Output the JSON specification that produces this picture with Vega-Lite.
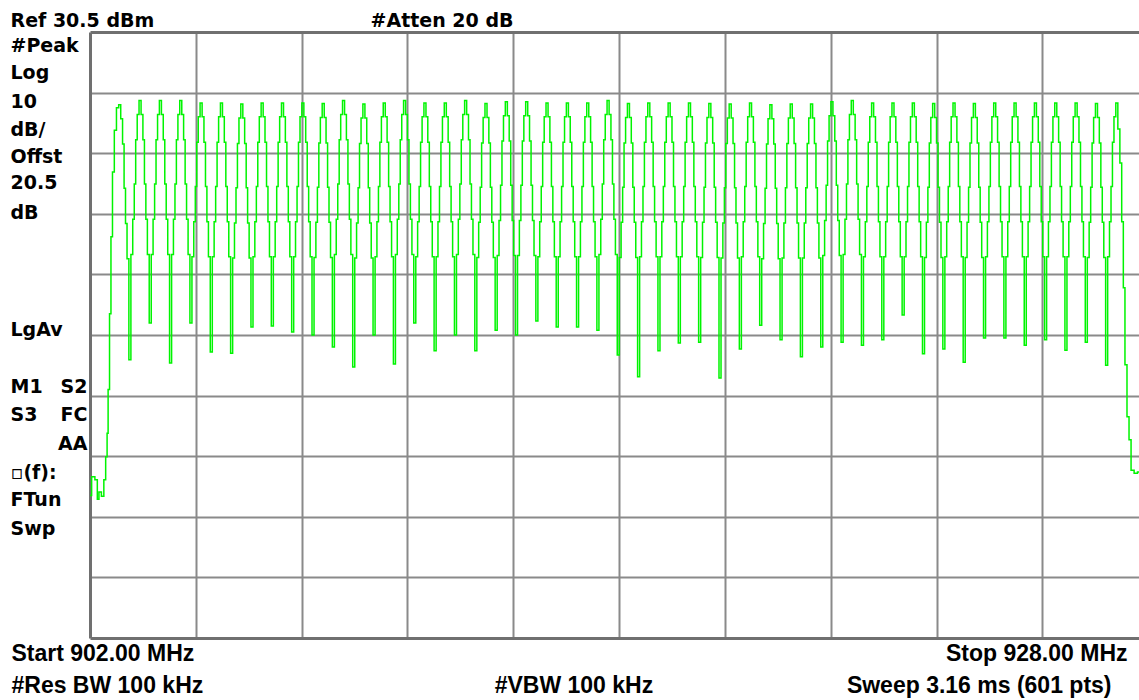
{
"$schema":"https://vega.github.io/schema/vega-lite/v6.json",
"width":1049,"height":606,
"autosize":{"type":"none"},
"padding":{"left":90,"top":32,"right":0,"bottom":62},
"background":"#ffffff",
"config":{"view":{"stroke":null},"axis":{"labelFont":"DejaVu Sans","labelFontWeight":"bold","labelColor":"#000000","labelFontSize":19,"labelFlush":false,"labelOverlap":false,"labelBound":false,"labelLimit":0,"title":null}},
"data":{"values":[
{"f":902.00,"p":-46.0},{"f":902.08,"p":-42.9},{"f":902.16,"p":-43.4},{"f":902.20,"p":-46.6},{"f":902.24,"p":-45.4},{"f":902.32,"p":-46.1},{"f":902.36,"p":-43.4},{"f":902.41,"p":-39.6},{"f":902.43,"p":-35.7},{"f":902.46,"p":-28.5},{"f":902.50,"p":-16.0},{"f":902.53,"p":-3.3},{"f":902.575,"p":7.4},{"f":902.62,"p":14.3},{"f":902.68,"p":18.0},{"f":902.73,"p":18.5},{"f":902.78,"p":16.2},{"f":902.82,"p":12.0},{"f":902.855,"p":4.7},{"f":902.89,"p":-1.1},{"f":902.93,"p":-6.9},{"f":902.98,"p":-23.6},
{"f":903.03,"p":-6.2},{"f":903.07,"p":-0.4},{"f":903.105,"p":5.4},{"f":903.14,"p":12.7},{"f":903.18,"p":16.9},{"f":903.23,"p":19.2},{"f":903.28,"p":16.9},{"f":903.32,"p":12.7},{"f":903.355,"p":5.4},{"f":903.39,"p":-0.4},{"f":903.43,"p":-6.2},{"f":903.48,"p":-17.5},
{"f":903.53,"p":-6.2},{"f":903.57,"p":-0.4},{"f":903.605,"p":5.4},{"f":903.64,"p":12.7},{"f":903.68,"p":16.9},{"f":903.73,"p":19.2},{"f":903.78,"p":16.9},{"f":903.82,"p":12.7},{"f":903.855,"p":5.4},{"f":903.89,"p":-0.4},{"f":903.93,"p":-6.2},{"f":903.98,"p":-24.1},
{"f":904.03,"p":-6.2},{"f":904.07,"p":-0.4},{"f":904.105,"p":5.4},{"f":904.14,"p":12.7},{"f":904.18,"p":16.9},{"f":904.23,"p":19.2},{"f":904.28,"p":16.9},{"f":904.32,"p":12.7},{"f":904.355,"p":5.4},{"f":904.39,"p":-0.4},{"f":904.43,"p":-6.2},{"f":904.48,"p":-17.5},
{"f":904.53,"p":-6.6},{"f":904.57,"p":-0.8},{"f":904.605,"p":5.0},{"f":904.64,"p":12.3},{"f":904.68,"p":16.5},{"f":904.73,"p":18.8},{"f":904.78,"p":16.5},{"f":904.82,"p":12.3},{"f":904.855,"p":5.0},{"f":904.89,"p":-0.8},{"f":904.93,"p":-6.6},{"f":904.98,"p":-22.3},
{"f":905.03,"p":-6.6},{"f":905.07,"p":-0.8},{"f":905.105,"p":5.0},{"f":905.14,"p":12.3},{"f":905.18,"p":16.5},{"f":905.23,"p":18.8},{"f":905.28,"p":16.5},{"f":905.32,"p":12.3},{"f":905.355,"p":5.0},{"f":905.39,"p":-0.8},{"f":905.43,"p":-6.6},{"f":905.48,"p":-22.5},
{"f":905.53,"p":-6.8},{"f":905.57,"p":-1.0},{"f":905.605,"p":4.8},{"f":905.64,"p":12.1},{"f":905.68,"p":16.3},{"f":905.73,"p":18.6},{"f":905.78,"p":16.3},{"f":905.82,"p":12.1},{"f":905.855,"p":4.8},{"f":905.89,"p":-1.0},{"f":905.93,"p":-6.8},{"f":905.98,"p":-18.2},
{"f":906.03,"p":-6.6},{"f":906.07,"p":-0.8},{"f":906.105,"p":5.0},{"f":906.14,"p":12.3},{"f":906.18,"p":16.5},{"f":906.23,"p":18.8},{"f":906.28,"p":16.5},{"f":906.32,"p":12.3},{"f":906.355,"p":5.0},{"f":906.39,"p":-0.8},{"f":906.43,"p":-6.6},{"f":906.48,"p":-18.0},
{"f":906.53,"p":-6.6},{"f":906.57,"p":-0.8},{"f":906.605,"p":5.0},{"f":906.64,"p":12.3},{"f":906.68,"p":16.5},{"f":906.73,"p":18.8},{"f":906.78,"p":16.5},{"f":906.82,"p":12.3},{"f":906.855,"p":5.0},{"f":906.89,"p":-0.8},{"f":906.93,"p":-6.6},{"f":906.98,"p":-19.0},
{"f":907.03,"p":-6.6},{"f":907.07,"p":-0.8},{"f":907.105,"p":5.0},{"f":907.14,"p":12.3},{"f":907.18,"p":16.5},{"f":907.23,"p":18.8},{"f":907.28,"p":16.5},{"f":907.32,"p":12.3},{"f":907.355,"p":5.0},{"f":907.39,"p":-0.8},{"f":907.43,"p":-6.6},{"f":907.48,"p":-19.5},
{"f":907.53,"p":-6.7},{"f":907.57,"p":-0.9},{"f":907.605,"p":4.9},{"f":907.64,"p":12.2},{"f":907.68,"p":16.4},{"f":907.73,"p":18.7},{"f":907.78,"p":16.4},{"f":907.82,"p":12.2},{"f":907.855,"p":4.9},{"f":907.89,"p":-0.9},{"f":907.93,"p":-6.7},{"f":907.98,"p":-21.5},
{"f":908.03,"p":-6.2},{"f":908.07,"p":-0.4},{"f":908.105,"p":5.4},{"f":908.14,"p":12.7},{"f":908.18,"p":16.9},{"f":908.23,"p":19.2},{"f":908.28,"p":16.9},{"f":908.32,"p":12.7},{"f":908.355,"p":5.4},{"f":908.39,"p":-0.4},{"f":908.43,"p":-6.2},{"f":908.48,"p":-24.8},
{"f":908.53,"p":-6.8},{"f":908.57,"p":-1.0},{"f":908.605,"p":4.8},{"f":908.64,"p":12.1},{"f":908.68,"p":16.3},{"f":908.73,"p":18.6},{"f":908.78,"p":16.3},{"f":908.82,"p":12.1},{"f":908.855,"p":4.8},{"f":908.89,"p":-1.0},{"f":908.93,"p":-6.8},{"f":908.98,"p":-19.5},
{"f":909.03,"p":-6.6},{"f":909.07,"p":-0.8},{"f":909.105,"p":5.0},{"f":909.14,"p":12.3},{"f":909.18,"p":16.5},{"f":909.23,"p":18.8},{"f":909.28,"p":16.5},{"f":909.32,"p":12.3},{"f":909.355,"p":5.0},{"f":909.39,"p":-0.8},{"f":909.43,"p":-6.6},{"f":909.48,"p":-24.3},
{"f":909.53,"p":-6.2},{"f":909.57,"p":-0.4},{"f":909.605,"p":5.4},{"f":909.64,"p":12.7},{"f":909.68,"p":16.9},{"f":909.73,"p":19.2},{"f":909.78,"p":16.9},{"f":909.82,"p":12.7},{"f":909.855,"p":5.4},{"f":909.89,"p":-0.4},{"f":909.93,"p":-6.2},{"f":909.98,"p":-17.5},
{"f":910.03,"p":-6.6},{"f":910.07,"p":-0.8},{"f":910.105,"p":5.0},{"f":910.14,"p":12.3},{"f":910.18,"p":16.5},{"f":910.23,"p":18.8},{"f":910.28,"p":16.5},{"f":910.32,"p":12.3},{"f":910.355,"p":5.0},{"f":910.39,"p":-0.8},{"f":910.43,"p":-6.6},{"f":910.48,"p":-22.1},
{"f":910.53,"p":-6.6},{"f":910.57,"p":-0.8},{"f":910.605,"p":5.0},{"f":910.64,"p":12.3},{"f":910.68,"p":16.5},{"f":910.73,"p":18.8},{"f":910.78,"p":16.5},{"f":910.82,"p":12.3},{"f":910.855,"p":5.0},{"f":910.89,"p":-0.8},{"f":910.93,"p":-6.6},{"f":910.98,"p":-19.5},
{"f":911.03,"p":-6.2},{"f":911.07,"p":-0.4},{"f":911.105,"p":5.4},{"f":911.14,"p":12.7},{"f":911.18,"p":16.9},{"f":911.23,"p":19.2},{"f":911.28,"p":16.9},{"f":911.32,"p":12.7},{"f":911.355,"p":5.4},{"f":911.39,"p":-0.4},{"f":911.43,"p":-6.2},{"f":911.48,"p":-22.1},
{"f":911.53,"p":-6.7},{"f":911.57,"p":-0.9},{"f":911.605,"p":4.9},{"f":911.64,"p":12.2},{"f":911.68,"p":16.4},{"f":911.73,"p":18.7},{"f":911.78,"p":16.4},{"f":911.82,"p":12.2},{"f":911.855,"p":4.9},{"f":911.89,"p":-0.9},{"f":911.93,"p":-6.7},{"f":911.98,"p":-18.7},
{"f":912.03,"p":-6.4},{"f":912.07,"p":-0.6},{"f":912.105,"p":5.2},{"f":912.14,"p":12.5},{"f":912.18,"p":16.7},{"f":912.23,"p":19.0},{"f":912.28,"p":16.7},{"f":912.32,"p":12.5},{"f":912.355,"p":5.2},{"f":912.39,"p":-0.6},{"f":912.43,"p":-6.4},{"f":912.48,"p":-19.5},
{"f":912.53,"p":-6.4},{"f":912.57,"p":-0.6},{"f":912.605,"p":5.2},{"f":912.64,"p":12.5},{"f":912.68,"p":16.7},{"f":912.73,"p":19.0},{"f":912.78,"p":16.7},{"f":912.82,"p":12.5},{"f":912.855,"p":5.2},{"f":912.89,"p":-0.6},{"f":912.93,"p":-6.4},{"f":912.98,"p":-17.2},
{"f":913.03,"p":-6.6},{"f":913.07,"p":-0.8},{"f":913.105,"p":5.0},{"f":913.14,"p":12.3},{"f":913.18,"p":16.5},{"f":913.23,"p":18.8},{"f":913.28,"p":16.5},{"f":913.32,"p":12.3},{"f":913.355,"p":5.0},{"f":913.39,"p":-0.8},{"f":913.43,"p":-6.6},{"f":913.48,"p":-18.2},
{"f":913.53,"p":-6.6},{"f":913.57,"p":-0.8},{"f":913.605,"p":5.0},{"f":913.64,"p":12.3},{"f":913.68,"p":16.5},{"f":913.73,"p":18.8},{"f":913.78,"p":16.5},{"f":913.82,"p":12.3},{"f":913.855,"p":5.0},{"f":913.89,"p":-0.8},{"f":913.93,"p":-6.6},{"f":913.98,"p":-18.2},
{"f":914.03,"p":-6.6},{"f":914.07,"p":-0.8},{"f":914.105,"p":5.0},{"f":914.14,"p":12.3},{"f":914.18,"p":16.5},{"f":914.23,"p":18.8},{"f":914.28,"p":16.5},{"f":914.32,"p":12.3},{"f":914.355,"p":5.0},{"f":914.39,"p":-0.8},{"f":914.43,"p":-6.6},{"f":914.48,"p":-18.7},
{"f":914.53,"p":-6.2},{"f":914.57,"p":-0.4},{"f":914.605,"p":5.4},{"f":914.64,"p":12.7},{"f":914.68,"p":16.9},{"f":914.73,"p":19.2},{"f":914.78,"p":16.9},{"f":914.82,"p":12.7},{"f":914.855,"p":5.4},{"f":914.89,"p":-0.4},{"f":914.93,"p":-6.2},{"f":914.98,"p":-22.8},
{"f":915.03,"p":-6.7},{"f":915.07,"p":-0.9},{"f":915.105,"p":4.9},{"f":915.14,"p":12.2},{"f":915.18,"p":16.4},{"f":915.23,"p":18.7},{"f":915.28,"p":16.4},{"f":915.32,"p":12.2},{"f":915.355,"p":4.9},{"f":915.39,"p":-0.9},{"f":915.43,"p":-6.7},{"f":915.48,"p":-26.4},
{"f":915.53,"p":-6.6},{"f":915.57,"p":-0.8},{"f":915.605,"p":5.0},{"f":915.64,"p":12.3},{"f":915.68,"p":16.5},{"f":915.73,"p":18.8},{"f":915.78,"p":16.5},{"f":915.82,"p":12.3},{"f":915.855,"p":5.0},{"f":915.89,"p":-0.8},{"f":915.93,"p":-6.6},{"f":915.98,"p":-22.1},
{"f":916.03,"p":-6.6},{"f":916.07,"p":-0.8},{"f":916.105,"p":5.0},{"f":916.14,"p":12.3},{"f":916.18,"p":16.5},{"f":916.23,"p":18.8},{"f":916.28,"p":16.5},{"f":916.32,"p":12.3},{"f":916.355,"p":5.0},{"f":916.39,"p":-0.8},{"f":916.43,"p":-6.6},{"f":916.48,"p":-20.8},
{"f":916.53,"p":-6.6},{"f":916.57,"p":-0.8},{"f":916.605,"p":5.0},{"f":916.64,"p":12.3},{"f":916.68,"p":16.5},{"f":916.73,"p":18.8},{"f":916.78,"p":16.5},{"f":916.82,"p":12.3},{"f":916.855,"p":5.0},{"f":916.89,"p":-0.8},{"f":916.93,"p":-6.6},{"f":916.98,"p":-20.7},
{"f":917.03,"p":-6.7},{"f":917.07,"p":-0.9},{"f":917.105,"p":4.9},{"f":917.14,"p":12.2},{"f":917.18,"p":16.4},{"f":917.23,"p":18.7},{"f":917.28,"p":16.4},{"f":917.32,"p":12.2},{"f":917.355,"p":4.9},{"f":917.39,"p":-0.9},{"f":917.43,"p":-6.7},{"f":917.48,"p":-26.6},
{"f":917.53,"p":-6.8},{"f":917.57,"p":-1.0},{"f":917.605,"p":4.8},{"f":917.64,"p":12.1},{"f":917.68,"p":16.3},{"f":917.73,"p":18.6},{"f":917.78,"p":16.3},{"f":917.82,"p":12.1},{"f":917.855,"p":4.8},{"f":917.89,"p":-1.0},{"f":917.93,"p":-6.8},{"f":917.98,"p":-21.8},
{"f":918.03,"p":-6.6},{"f":918.07,"p":-0.8},{"f":918.105,"p":5.0},{"f":918.14,"p":12.3},{"f":918.18,"p":16.5},{"f":918.23,"p":18.8},{"f":918.28,"p":16.5},{"f":918.32,"p":12.3},{"f":918.355,"p":5.0},{"f":918.39,"p":-0.8},{"f":918.43,"p":-6.6},{"f":918.48,"p":-17.9},
{"f":918.53,"p":-6.9},{"f":918.57,"p":-1.1},{"f":918.605,"p":4.7},{"f":918.64,"p":12.0},{"f":918.68,"p":16.2},{"f":918.73,"p":18.5},{"f":918.78,"p":16.2},{"f":918.82,"p":12.0},{"f":918.855,"p":4.7},{"f":918.89,"p":-1.1},{"f":918.93,"p":-6.9},{"f":918.98,"p":-20.3},
{"f":919.03,"p":-6.8},{"f":919.07,"p":-1.0},{"f":919.105,"p":4.8},{"f":919.14,"p":12.1},{"f":919.18,"p":16.3},{"f":919.23,"p":18.6},{"f":919.28,"p":16.3},{"f":919.32,"p":12.1},{"f":919.355,"p":4.8},{"f":919.39,"p":-1.0},{"f":919.43,"p":-6.8},{"f":919.48,"p":-23.1},
{"f":919.53,"p":-6.8},{"f":919.57,"p":-1.0},{"f":919.605,"p":4.8},{"f":919.64,"p":12.1},{"f":919.68,"p":16.3},{"f":919.73,"p":18.6},{"f":919.78,"p":16.3},{"f":919.82,"p":12.1},{"f":919.855,"p":4.8},{"f":919.89,"p":-1.0},{"f":919.93,"p":-6.8},{"f":919.98,"p":-21.5},
{"f":920.03,"p":-6.4},{"f":920.07,"p":-0.6},{"f":920.105,"p":5.2},{"f":920.14,"p":12.5},{"f":920.18,"p":16.7},{"f":920.23,"p":19.0},{"f":920.28,"p":16.7},{"f":920.32,"p":12.5},{"f":920.355,"p":5.2},{"f":920.39,"p":-0.6},{"f":920.43,"p":-6.4},{"f":920.48,"p":-20.7},
{"f":920.53,"p":-6.2},{"f":920.57,"p":-0.4},{"f":920.605,"p":5.4},{"f":920.64,"p":12.7},{"f":920.68,"p":16.9},{"f":920.73,"p":19.2},{"f":920.78,"p":16.9},{"f":920.82,"p":12.7},{"f":920.855,"p":5.4},{"f":920.89,"p":-0.4},{"f":920.93,"p":-6.2},{"f":920.98,"p":-21.2},
{"f":921.03,"p":-6.6},{"f":921.07,"p":-0.8},{"f":921.105,"p":5.0},{"f":921.14,"p":12.3},{"f":921.18,"p":16.5},{"f":921.23,"p":18.8},{"f":921.28,"p":16.5},{"f":921.32,"p":12.3},{"f":921.355,"p":5.0},{"f":921.39,"p":-0.8},{"f":921.43,"p":-6.6},{"f":921.48,"p":-20.3},
{"f":921.53,"p":-6.6},{"f":921.57,"p":-0.8},{"f":921.605,"p":5.0},{"f":921.64,"p":12.3},{"f":921.68,"p":16.5},{"f":921.73,"p":18.8},{"f":921.78,"p":16.5},{"f":921.82,"p":12.3},{"f":921.855,"p":5.0},{"f":921.89,"p":-0.8},{"f":921.93,"p":-6.6},{"f":921.98,"p":-16.2},
{"f":922.03,"p":-6.6},{"f":922.07,"p":-0.8},{"f":922.105,"p":5.0},{"f":922.14,"p":12.3},{"f":922.18,"p":16.5},{"f":922.23,"p":18.8},{"f":922.28,"p":16.5},{"f":922.32,"p":12.3},{"f":922.355,"p":5.0},{"f":922.39,"p":-0.8},{"f":922.43,"p":-6.6},{"f":922.48,"p":-22.6},
{"f":922.53,"p":-6.7},{"f":922.57,"p":-0.9},{"f":922.605,"p":4.9},{"f":922.64,"p":12.2},{"f":922.68,"p":16.4},{"f":922.73,"p":18.7},{"f":922.78,"p":16.4},{"f":922.82,"p":12.2},{"f":922.855,"p":4.9},{"f":922.89,"p":-0.9},{"f":922.93,"p":-6.7},{"f":922.98,"p":-21.8},
{"f":923.03,"p":-6.6},{"f":923.07,"p":-0.8},{"f":923.105,"p":5.0},{"f":923.14,"p":12.3},{"f":923.18,"p":16.5},{"f":923.23,"p":18.8},{"f":923.28,"p":16.5},{"f":923.32,"p":12.3},{"f":923.355,"p":5.0},{"f":923.39,"p":-0.8},{"f":923.43,"p":-6.6},{"f":923.48,"p":-24.0},
{"f":923.53,"p":-6.7},{"f":923.57,"p":-0.9},{"f":923.605,"p":4.9},{"f":923.64,"p":12.2},{"f":923.68,"p":16.4},{"f":923.73,"p":18.7},{"f":923.78,"p":16.4},{"f":923.82,"p":12.2},{"f":923.855,"p":4.9},{"f":923.89,"p":-0.9},{"f":923.93,"p":-6.7},{"f":923.98,"p":-20.0},
{"f":924.03,"p":-6.6},{"f":924.07,"p":-0.8},{"f":924.105,"p":5.0},{"f":924.14,"p":12.3},{"f":924.18,"p":16.5},{"f":924.23,"p":18.8},{"f":924.28,"p":16.5},{"f":924.32,"p":12.3},{"f":924.355,"p":5.0},{"f":924.39,"p":-0.8},{"f":924.43,"p":-6.6},{"f":924.48,"p":-20.0},
{"f":924.53,"p":-6.6},{"f":924.57,"p":-0.8},{"f":924.605,"p":5.0},{"f":924.64,"p":12.3},{"f":924.68,"p":16.5},{"f":924.73,"p":18.8},{"f":924.78,"p":16.5},{"f":924.82,"p":12.3},{"f":924.855,"p":5.0},{"f":924.89,"p":-0.8},{"f":924.93,"p":-6.6},{"f":924.98,"p":-21.2},
{"f":925.03,"p":-6.6},{"f":925.07,"p":-0.8},{"f":925.105,"p":5.0},{"f":925.14,"p":12.3},{"f":925.18,"p":16.5},{"f":925.23,"p":18.8},{"f":925.28,"p":16.5},{"f":925.32,"p":12.3},{"f":925.355,"p":5.0},{"f":925.39,"p":-0.8},{"f":925.43,"p":-6.6},{"f":925.48,"p":-20.3},
{"f":925.53,"p":-6.6},{"f":925.57,"p":-0.8},{"f":925.605,"p":5.0},{"f":925.64,"p":12.3},{"f":925.68,"p":16.5},{"f":925.73,"p":18.8},{"f":925.78,"p":16.5},{"f":925.82,"p":12.3},{"f":925.855,"p":5.0},{"f":925.89,"p":-0.8},{"f":925.93,"p":-6.6},{"f":925.98,"p":-22.0},
{"f":926.03,"p":-6.6},{"f":926.07,"p":-0.8},{"f":926.105,"p":5.0},{"f":926.14,"p":12.3},{"f":926.18,"p":16.5},{"f":926.23,"p":18.8},{"f":926.28,"p":16.5},{"f":926.32,"p":12.3},{"f":926.355,"p":5.0},{"f":926.39,"p":-0.8},{"f":926.43,"p":-6.6},{"f":926.48,"p":-20.7},
{"f":926.53,"p":-6.7},{"f":926.57,"p":-0.9},{"f":926.605,"p":4.9},{"f":926.64,"p":12.2},{"f":926.68,"p":16.4},{"f":926.73,"p":18.7},{"f":926.78,"p":16.4},{"f":926.82,"p":12.2},{"f":926.855,"p":4.9},{"f":926.89,"p":-0.9},{"f":926.93,"p":-6.7},{"f":926.98,"p":-24.5},
{"f":927.03,"p":-6.6},{"f":927.07,"p":-0.8},{"f":927.105,"p":5.0},{"f":927.14,"p":12.3},{"f":927.18,"p":16.5},{"f":927.23,"p":18.8},{"f":927.28,"p":14.5},{"f":927.33,"p":8.9},{"f":927.37,"p":-0.8},{"f":927.41,"p":-11.7},{"f":927.45,"p":-24.4},{"f":927.51,"p":-33.0},{"f":927.55,"p":-36.8},{"f":927.61,"p":-41.8},{"f":927.70,"p":-42.3},{"f":927.775,"p":-42.1}
]},
"layer":[
{"mark":{"type":"line","color":"#00f400","strokeWidth":1.5,"interpolate":"step","clip":true},
 "encoding":{
  "x":{"field":"f","type":"quantitative","scale":{"domain":[902,927.775],"nice":false,"zero":false},
   "axis":{"orient":"bottom","values":[902],"grid":false,"ticks":false,"domain":true,"domainColor":"#707070","domainWidth":3,
    "labelPadding":22,"labelBaseline":"alphabetic","labelLineHeight":32,"labelFont":"Liberation Sans","labelFontSize":23,"labelAlign":"left","labelOffset":-79,
    "labelExpr":"['Start 902.00 MHz', '#Res BW 100 kHz']"}},
  "y":{"field":"p","type":"quantitative","scale":{"domain":[-69.5,30.5],"nice":false,"zero":false},
   "axis":{"orient":"left","values":[27.25,22.86,18.12,13.5,8.9,4.6,-0.2,-19.5,-29,-33.6,-43.1,-47.7,-52.5],"grid":false,"ticks":false,"domain":true,"domainColor":"#707070","domainWidth":3,
    "labelAlign":"left","labelBaseline":"alphabetic","labelPadding":80,
    "labelExpr":"['#Peak','Log','10','dB/','Offst','20.5','dB','LgAv','M1','S3','\u25ab(f):','FTun','Swp'][indexof([27.25,22.86,18.12,13.5,8.9,4.6,-0.2,-19.5,-29,-33.6,-43.1,-47.7,-52.5], datum.value)]"}}
 }},
{"transform":[{"filter":"datum.f == 902"}],
 "mark":{"type":"point","opacity":0},
 "encoding":{
  "x":{"field":"f","type":"quantitative",
   "axis":{"orient":"bottom","values":[927.775],"grid":false,"ticks":false,"domain":false,
    "labelPadding":22,"labelBaseline":"alphabetic","labelFont":"Liberation Sans","labelFontSize":23,"labelAlign":"right","labelOffset":-12,
    "labelExpr":"'Stop 928.00 MHz'"}},
  "y":{"field":"p","type":"quantitative",
   "axis":{"orient":"right","values":[20.5,10.5,0.5,-9.5,-19.5,-29.5,-39.5,-49.5,-59.5],"grid":true,"gridColor":"#8a8a8a","gridWidth":2,"gridOpacity":1,"labels":false,"ticks":false,"domain":false}}
 }},
{"transform":[{"filter":"datum.f == 902"}],
 "mark":{"type":"point","opacity":0},
 "encoding":{
  "x":{"field":"f","type":"quantitative",
   "axis":{"orient":"bottom","values":[927.775],"grid":false,"ticks":false,"domain":false,
    "labelPadding":54,"labelBaseline":"alphabetic","labelFont":"Liberation Sans","labelFontSize":23,"labelAlign":"right","labelOffset":-28,
    "labelExpr":"'Sweep 3.16 ms (601 pts)'"}},
  "y":{"field":"p","type":"quantitative","axis":null}
 }},
{"transform":[{"filter":"datum.f == 902"}],
 "mark":{"type":"point","opacity":0},
 "encoding":{
  "x":{"field":"f","type":"quantitative",
   "axis":{"orient":"bottom","values":[911.93],"grid":false,"ticks":false,"domain":false,
    "labelPadding":54,"labelBaseline":"alphabetic","labelFont":"Liberation Sans","labelFontSize":23,"labelAlign":"left",
    "labelExpr":"'#VBW 100 kHz'"}},
  "y":{"field":"p","type":"quantitative",
   "axis":{"orient":"left","values":[-29,-33.6,-38.4],"grid":false,"ticks":false,"domain":false,
    "labelAlign":"right","labelBaseline":"alphabetic","labelPadding":3,
    "labelExpr":"['S2','FC','AA'][indexof([-29,-33.6,-38.4], datum.value)]"}}
 }},
{"transform":[{"filter":"datum.f == 902"}],
 "mark":{"type":"point","opacity":0},
 "encoding":{
  "x":{"field":"f","type":"quantitative",
   "axis":{"orient":"top","values":[902],"grid":false,"ticks":false,"domain":true,"domainColor":"#707070","domainWidth":3,
    "labelPadding":6,"labelBaseline":"alphabetic","labelAlign":"left","labelOffset":-80,
    "labelExpr":"'Ref 30.5 dBm'"}},
  "y":{"field":"p","type":"quantitative","axis":null}
 }},
{"transform":[{"filter":"datum.f == 902"}],
 "mark":{"type":"point","opacity":0},
 "encoding":{
  "x":{"field":"f","type":"quantitative",
   "axis":{"orient":"top","values":[908.88],"grid":false,"ticks":false,"domain":false,
    "labelPadding":6,"labelBaseline":"alphabetic","labelAlign":"left",
    "labelExpr":"'#Atten 20 dB'"}},
  "y":{"field":"p","type":"quantitative","axis":null}
 }},
{"transform":[{"filter":"datum.f == 902"}],
 "mark":{"type":"point","opacity":0},
 "encoding":{
  "x":{"field":"f","type":"quantitative",
   "axis":{"orient":"bottom","values":[904.6,907.2,909.8,912.4,915.0,917.6,920.2,922.8,925.4],"grid":true,"gridColor":"#8a8a8a","gridWidth":2,"gridOpacity":1,"labels":false,"ticks":false,"domain":false}},
  "y":{"field":"p","type":"quantitative","axis":null}
 }}
],
"resolve":{"axis":{"x":"independent","y":"independent"}}
}
